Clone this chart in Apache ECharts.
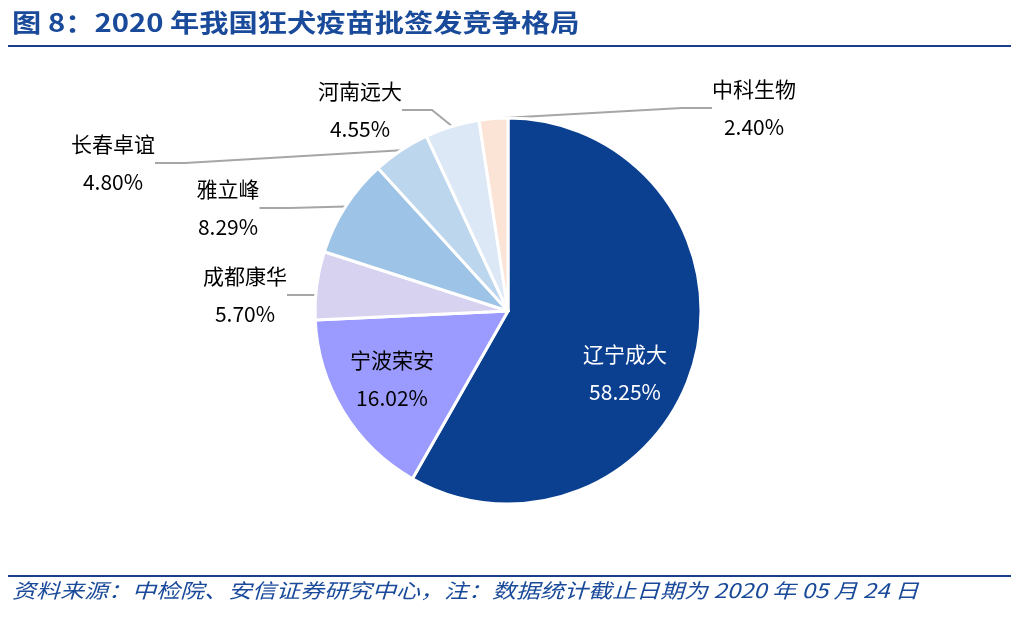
<!DOCTYPE html>
<html><head><meta charset="utf-8">
<script src="https://cdn.jsdelivr.net/npm/echarts@6/dist/echarts.min.js"></script>
<style>html,body{margin:0;padding:0;background:#fff}#c{width:1017px;height:618px}</style>
</head><body><div id="c"></div>
<script>
const categories=['辽宁成大','宁波荣安','成都康华','雅立峰','长春卓谊','河南远大','中科生物'];
const values=[58.25,16.02,5.70,8.29,4.80,4.55,2.40];
const colors=['#0b3f90','#9b9bff','#d7d2ef','#9dc3e6','#bcd6ee','#dde8f6','#fbe3d6'];
const labelPos=[[625,373],[392,379],[245,295],[228,208],[113,163],[360,110],[754,108]];
const chart=echarts.init(document.getElementById('c'));
const font='"Noto Sans CJK SC","Noto Sans",sans-serif';
chart.setOption({
  animation:false,
  graphic:[
    {type:'text',left:12,top:10,style:{text:'图 8：2020 年我国狂犬疫苗批签发竞争格局',font:'bold 25px '+font,fill:'#1a4a9a'},scaleX:1.17},
    {type:'rect',shape:{x:8,y:45,width:1003,height:2},style:{fill:'#1a3f8a'}},
    {type:'rect',shape:{x:8,y:575,width:1003,height:2},style:{fill:'#1a3f8a'}},
    {type:'text',left:12,top:580,style:{text:'资料来源：中检院、安信证券研究中心，注：数据统计截止日期为 2020 年 05 月 24 日',font:'italic 20px '+font,fill:'#1a4a9a'},scaleX:1.2}
  ],
  series:[{
    type:'pie',center:[508,311],radius:[0,193],startAngle:90,clockwise:true,
    itemStyle:{borderColor:'#fff',borderWidth:3},
    label:{position:'outside',formatter:p=>p.name+'\n'+p.value.toFixed(2)+'%',fontFamily:font,fontSize:21,lineHeight:38,color:'#000',align:'center'},
    labelLine:{show:true,length:15,length2:30,lineStyle:{color:'#a6a6a6',width:2}},
    labelLayout:function(p){const pos=labelPos[p.dataIndex];return {x:pos[0],y:pos[1],align:'center',verticalAlign:'middle'};},
    data:categories.map((n,i)=>{
      const d={name:n,value:values[i],itemStyle:{color:colors[i]}};
      if(i<2){d.label={position:'inside',color:i===0?'#fff':'#000'};d.labelLine={show:false};}
      return d;
    })
  }]
});
</script></body></html>
